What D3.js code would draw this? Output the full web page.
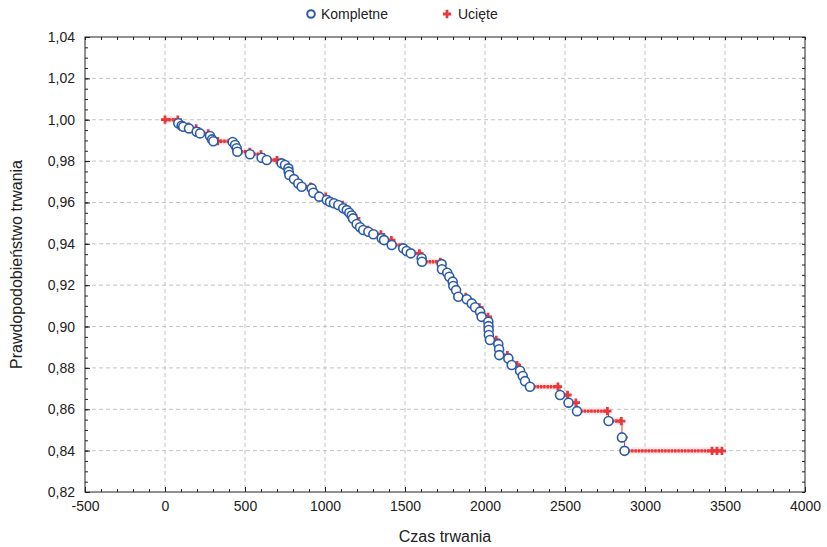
<!DOCTYPE html>
<html>
<head>
<meta charset="utf-8">
<script src="https://cdn.jsdelivr.net/npm/d3@7"></script>
<style>
  body { margin: 0; background: #fff; }
  text { font-family: "Liberation Sans", Arial, sans-serif; fill: #222; }
</style>
</head>
<body>
<div id="chart"></div>
<script>
// event (complete) observations: time and survival after the event
const eventTimes = [83, 104, 114, 150, 198, 219, 281, 294, 302, 423, 438, 448, 452, 531, 604, 636,
  729, 750, 771, 773, 777, 806, 833, 854, 917, 927, 964, 1011, 1031, 1056, 1083, 1114, 1136, 1152,
  1167, 1175, 1198, 1219, 1239, 1271, 1302, 1354, 1369, 1417, 1489, 1510, 1536, 1604, 1606, 1729,
  1731, 1764, 1777, 1798, 1802, 1819, 1833, 1886, 1917, 1938, 1969, 1979, 2021, 2022, 2023, 2024,
  2031, 2083, 2088, 2089, 2146, 2167, 2219, 2236, 2250, 2281, 2469, 2522, 2575, 2772, 2856, 2872];
const eventSurv = [0.9983, 0.9971, 0.9966, 0.9958, 0.9942, 0.9934, 0.9921, 0.9905, 0.9896, 0.9892,
  0.9878, 0.9862, 0.9845, 0.9833, 0.9816, 0.9805, 0.9789, 0.9781, 0.9765, 0.9749, 0.9733, 0.9713,
  0.9692, 0.9676, 0.9668, 0.9647, 0.9628, 0.9612, 0.9603, 0.9596, 0.9588, 0.9572, 0.9563, 0.9550,
  0.9537, 0.9523, 0.9496, 0.9480, 0.9467, 0.9458, 0.9446, 0.9427, 0.9418, 0.9394, 0.9378, 0.9365,
  0.9354, 0.9330, 0.9313, 0.9302, 0.9277, 0.9260, 0.9241, 0.9217, 0.9196, 0.9176, 0.9144, 0.9132,
  0.9112, 0.9093, 0.9072, 0.9047, 0.9023, 0.9002, 0.8983, 0.8959, 0.8935, 0.8915, 0.8890, 0.8862,
  0.8846, 0.8814, 0.8786, 0.8761, 0.8736, 0.8709, 0.8669, 0.8632, 0.8591, 0.8543, 0.8464, 0.8399];
// censored observations
const censorTimes = [0, 80, 147, 195, 270, 330, 530, 600, 700, 910, 1005, 1110, 1195, 1268, 1350,
  1415, 1590, 1720, 1880, 1965, 2019, 2070, 2140, 2200, 2456, 2516, 2568, 2765, 2852, 2866,
  3419, 3450, 3481];

const xTicks = [-500, 0, 500, 1000, 1500, 2000, 2500, 3000, 3500, 4000];
const yTicks = [0.82, 0.84, 0.86, 0.88, 0.90, 0.92, 0.94, 0.96, 0.98, 1.00, 1.02, 1.04];
const xMinor = d3.range(-500, 4001, 100);
const yMinor = d3.range(0, 45).map(i => 0.82 + i * 0.005);

const W = 827, H = 547;
const plot = { left: 85, right: 805, top: 37, bottom: 492 };

const x = d3.scaleLinear().domain([-500, 4000]).range([plot.left, plot.right]);
const y = d3.scaleLinear().domain([0.82, 1.04]).range([plot.bottom, plot.top]);

const blue = "#2c5ba8", red = "#e8383b";
const fmt = d => d.toFixed(2).replace(".", ",");

const svg = d3.select("#chart").append("svg")
    .attr("width", W).attr("height", H);

// grid
svg.append("g").selectAll("line")
    .data(xTicks.slice(1, -1))
    .join("line")
    .attr("x1", d => x(d)).attr("x2", d => x(d))
    .attr("y1", plot.top).attr("y2", plot.bottom)
    .attr("stroke", "#c4c4c4").attr("stroke-dasharray", "4,3");
svg.append("g").selectAll("line")
    .data(yTicks.slice(1, -1))
    .join("line")
    .attr("y1", d => y(d)).attr("y2", d => y(d))
    .attr("x1", plot.left).attr("x2", plot.right)
    .attr("stroke", "#c4c4c4").attr("stroke-dasharray", "4,3");

// axes with inward ticks
const axisStyle = g => {
  g.select(".domain").remove();
  g.selectAll("line").attr("stroke", "#222");
  g.selectAll("text").style("font-size", "14px").attr("fill", "#222");
};
svg.append("g").attr("transform", `translate(0,${plot.bottom})`)
    .call(d3.axisBottom(x).tickValues(xMinor).tickSize(-3).tickFormat(""))
    .call(axisStyle);
svg.append("g").attr("transform", `translate(0,${plot.bottom})`)
    .call(d3.axisBottom(x).tickValues(xTicks).tickSize(-5).tickPadding(9).tickFormat(d => String(d)))
    .call(axisStyle);
svg.append("g").attr("transform", `translate(0,${plot.top})`)
    .call(d3.axisTop(x).tickValues(xMinor).tickSize(-3).tickFormat(""))
    .call(axisStyle);
svg.append("g").attr("transform", `translate(${plot.left},0)`)
    .call(d3.axisLeft(y).tickValues(yMinor).tickSize(-3).tickFormat(""))
    .call(axisStyle);
svg.append("g").attr("transform", `translate(${plot.left},0)`)
    .call(d3.axisLeft(y).tickValues(yTicks).tickSize(-5).tickPadding(10).tickFormat(fmt))
    .call(axisStyle);
svg.append("g").attr("transform", `translate(${plot.right},0)`)
    .call(d3.axisRight(y).tickValues(yMinor).tickSize(-3).tickFormat(""))
    .call(axisStyle);

svg.append("rect")
    .attr("x", plot.left).attr("y", plot.top)
    .attr("width", plot.right - plot.left).attr("height", plot.bottom - plot.top)
    .attr("fill", "none").attr("stroke", "#222").attr("stroke-width", 1);

// step function
const events = eventTimes.map((t, i) => ({ t, s: eventSurv[i] }));
const survAt = t => {
  let s = 1;
  events.forEach(e => { if (e.t <= t) s = e.s; });
  return s;
};
const endT = d3.max(censorTimes);
const horiz = [];
let prevT = 0, prevS = 1;
events.forEach(e => {
  horiz.push({ t0: prevT, t1: e.t, s: prevS });
  prevT = e.t; prevS = e.s;
});
horiz.push({ t0: prevT, t1: endT, s: prevS });

const stepLine = d3.line().x(d => x(d[0])).y(d => y(d[1])).curve(d3.curveStepAfter);
const stepPts = [[0, 1]].concat(events.map(e => [e.t, e.s]), [[endT, prevS]]);

svg.append("g").selectAll("line")
    .data(horiz)
    .join("line")
    .attr("x1", d => x(d.t0)).attr("x2", d => x(d.t1))
    .attr("y1", d => y(d.s)).attr("y2", d => y(d.s))
    .attr("stroke", "#fbd9d9").attr("stroke-width", 7).attr("stroke-opacity", 0.6);

svg.append("path")
    .datum(stepPts)
    .attr("d", stepLine)
    .attr("fill", "none").attr("stroke", red).attr("stroke-width", 1);

svg.append("g").selectAll("line")
    .data(horiz)
    .join("line")
    .attr("x1", d => x(d.t0)).attr("x2", d => x(d.t1))
    .attr("y1", d => y(d.s)).attr("y2", d => y(d.s))
    .attr("stroke", red).attr("stroke-width", 3.4).attr("stroke-dasharray", "2.5,0.8");

const cross = d3.symbol(d3.symbolCross, 38);
svg.append("g").selectAll("path")
    .data(censorTimes)
    .join("path")
    .attr("d", cross)
    .attr("transform", d => `translate(${x(d)},${y(survAt(d))})`)
    .attr("fill", red);

svg.append("g").selectAll("circle")
    .data(events)
    .join("circle")
    .attr("cx", d => x(d.t)).attr("cy", d => y(d.s))
    .attr("r", 4.5)
    .attr("fill", "#fff").attr("stroke", blue).attr("stroke-width", 1.6);

// legend
svg.append("circle").attr("cx", 311).attr("cy", 14).attr("r", 3.8)
    .attr("fill", "#fff").attr("stroke", blue).attr("stroke-width", 2);
svg.append("text").attr("x", 321).attr("y", 19).style("font-size", "14px").text("Kompletne");
svg.append("path").attr("d", cross).attr("transform", "translate(447,14)").attr("fill", red);
svg.append("text").attr("x", 458).attr("y", 19).style("font-size", "14px").text("Ucięte");

// axis titles
svg.append("text")
    .attr("x", (plot.left + plot.right) / 2).attr("y", 542)
    .attr("text-anchor", "middle").style("font-size", "16px")
    .text("Czas trwania");
svg.append("text")
    .attr("transform", `translate(22,${(plot.top + plot.bottom) / 2}) rotate(-90)`)
    .attr("text-anchor", "middle").style("font-size", "16px")
    .text("Prawdopodobieństwo trwania");
</script>
</body>
</html>
